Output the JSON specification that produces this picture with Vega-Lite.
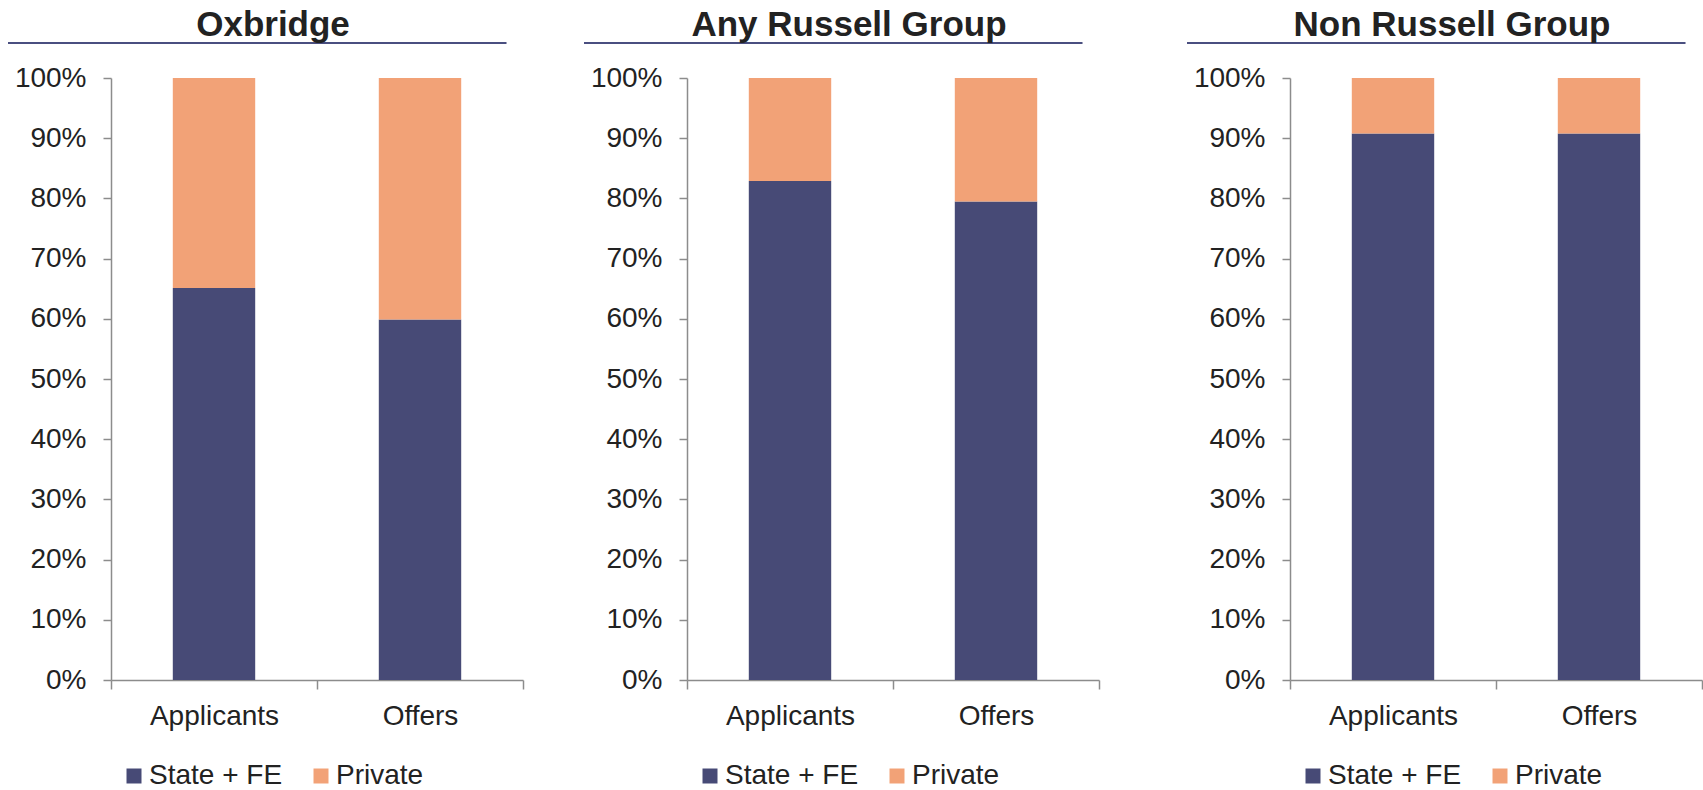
{
  "$schema": "https://vega.github.io/schema/vega-lite/v6.json",
  "padding": {"left": 7, "top": 8, "right": 0, "bottom": 0},
  "autosize": {"type": "pad"},
  "background": "white",
  "datasets": {
    "shares": [
      {"group": "Oxbridge", "stage": "Applicants", "school": "State + FE", "share": 0.651},
      {"group": "Oxbridge", "stage": "Applicants", "school": "Private", "share": 0.349},
      {"group": "Oxbridge", "stage": "Offers", "school": "State + FE", "share": 0.599},
      {"group": "Oxbridge", "stage": "Offers", "school": "Private", "share": 0.401},
      {"group": "Any Russell Group", "stage": "Applicants", "school": "State + FE", "share": 0.829},
      {"group": "Any Russell Group", "stage": "Applicants", "school": "Private", "share": 0.171},
      {"group": "Any Russell Group", "stage": "Offers", "school": "State + FE", "share": 0.795},
      {"group": "Any Russell Group", "stage": "Offers", "school": "Private", "share": 0.205},
      {"group": "Non Russell Group", "stage": "Applicants", "school": "State + FE", "share": 0.908},
      {"group": "Non Russell Group", "stage": "Applicants", "school": "Private", "share": 0.092},
      {"group": "Non Russell Group", "stage": "Offers", "school": "State + FE", "share": 0.908},
      {"group": "Non Russell Group", "stage": "Offers", "school": "Private", "share": 0.092}
    ]
  },
  "config": {
    "view": {"stroke": null},
    "font": "Liberation Sans",
    "axis": {
      "labelFont": "Liberation Sans",
      "labelFontSize": 28,
      "labelColor": "#222222",
      "domainColor": "#8c8c8c",
      "tickColor": "#8c8c8c",
      "domainWidth": 1.5,
      "tickWidth": 1.5,
      "tickSize": 8,
      "grid": false,
      "title": null
    },
    "title": {
      "font": "Liberation Sans",
      "fontSize": 35,
      "fontWeight": "bold",
      "color": "#222222",
      "anchor": "middle",
      "dx": -44,
      "baseline": "alphabetic",
      "offset": -1
    },
    "legend": {
      "orient": "none",
      "legendX": 9,
      "legendY": 684,
      "direction": "horizontal",
      "title": null,
      "symbolType": "square",
      "symbolSize": 225,
      "symbolStrokeWidth": 0,
      "symbolOpacity": 1,
      "labelFont": "Liberation Sans",
      "labelFontSize": 28,
      "labelColor": "#222222",
      "labelOffset": 1,
      "columnPadding": 24,
      "padding": 0
    }
  },
  "spacing": 59,
  "hconcat": [
    {
      "title": "Oxbridge",
      "width": 412,
      "height": 602,
      "layer": [
        {
          "data": {"name": "shares"},
          "transform": [{"filter": "datum.group === 'Oxbridge'"}],
          "mark": {"type": "bar", "width": {"band": 0.4}},
          "encoding": {
            "x": {"field": "stage", "type": "nominal", "sort": ["Applicants", "Offers"],
                  "scale": {"paddingInner": 0, "paddingOuter": 0},
                  "axis": {"labelAngle": 0, "tickBand": "extent", "labelPadding": 13, "tickSize": 9}},
            "y": {"field": "share", "type": "quantitative", "stack": "zero",
                  "scale": {"domain": [0, 1]},
                  "axis": {"format": ".0%", "values": [0, 0.1, 0.2, 0.3, 0.4, 0.5, 0.6, 0.7, 0.8, 0.9, 1], "labelPadding": 17}},
            "color": {"field": "school", "type": "nominal",
                      "scale": {"domain": ["State + FE", "Private"], "range": ["#474A76", "#F2A277"]}},
            "order": {"field": "school", "sort": "descending"}
          }
        },
        {
          "data": {"values": [{"underline": "Oxbridge"}]},
          "mark": {"type": "rule", "color": "#4A4F80", "strokeWidth": 2},
          "encoding": {
            "x": {"datum": -0.25, "type": "quantitative", "scale": {"domain": [0, 1]}, "axis": null},
            "x2": {"datum": 0.96},
            "y": {"datum": 1.058, "type": "quantitative"}
          }
        }
      ],
      "resolve": {"scale": {"x": "independent"}, "axis": {"x": "independent"}}
    },
    {
      "title": "Any Russell Group",
      "width": 412,
      "height": 602,
      "layer": [
        {
          "data": {"name": "shares"},
          "transform": [{"filter": "datum.group === 'Any Russell Group'"}],
          "mark": {"type": "bar", "width": {"band": 0.4}},
          "encoding": {
            "x": {"field": "stage", "type": "nominal", "sort": ["Applicants", "Offers"],
                  "scale": {"paddingInner": 0, "paddingOuter": 0},
                  "axis": {"labelAngle": 0, "tickBand": "extent", "labelPadding": 13, "tickSize": 9}},
            "y": {"field": "share", "type": "quantitative", "stack": "zero",
                  "scale": {"domain": [0, 1]},
                  "axis": {"format": ".0%", "values": [0, 0.1, 0.2, 0.3, 0.4, 0.5, 0.6, 0.7, 0.8, 0.9, 1], "labelPadding": 17}},
            "color": {"field": "school", "type": "nominal",
                      "scale": {"domain": ["State + FE", "Private"], "range": ["#474A76", "#F2A277"]}},
            "order": {"field": "school", "sort": "descending"}
          }
        },
        {
          "data": {"values": [{"underline": "Any Russell Group"}]},
          "mark": {"type": "rule", "color": "#4A4F80", "strokeWidth": 2},
          "encoding": {
            "x": {"datum": -0.25, "type": "quantitative", "scale": {"domain": [0, 1]}, "axis": null},
            "x2": {"datum": 0.96},
            "y": {"datum": 1.058, "type": "quantitative"}
          }
        }
      ],
      "resolve": {"scale": {"x": "independent"}, "axis": {"x": "independent"}}
    },
    {
      "title": "Non Russell Group",
      "width": 412,
      "height": 602,
      "layer": [
        {
          "data": {"name": "shares"},
          "transform": [{"filter": "datum.group === 'Non Russell Group'"}],
          "mark": {"type": "bar", "width": {"band": 0.4}},
          "encoding": {
            "x": {"field": "stage", "type": "nominal", "sort": ["Applicants", "Offers"],
                  "scale": {"paddingInner": 0, "paddingOuter": 0},
                  "axis": {"labelAngle": 0, "tickBand": "extent", "labelPadding": 13, "tickSize": 9}},
            "y": {"field": "share", "type": "quantitative", "stack": "zero",
                  "scale": {"domain": [0, 1]},
                  "axis": {"format": ".0%", "values": [0, 0.1, 0.2, 0.3, 0.4, 0.5, 0.6, 0.7, 0.8, 0.9, 1], "labelPadding": 17, "minExtent": 131}},
            "color": {"field": "school", "type": "nominal",
                      "scale": {"domain": ["State + FE", "Private"], "range": ["#474A76", "#F2A277"]}},
            "order": {"field": "school", "sort": "descending"}
          }
        },
        {
          "data": {"values": [{"underline": "Non Russell Group"}]},
          "mark": {"type": "rule", "color": "#4A4F80", "strokeWidth": 2},
          "encoding": {
            "x": {"datum": -0.25, "type": "quantitative", "scale": {"domain": [0, 1]}, "axis": null},
            "x2": {"datum": 0.96},
            "y": {"datum": 1.058, "type": "quantitative"}
          }
        }
      ],
      "resolve": {"scale": {"x": "independent"}, "axis": {"x": "independent"}}
    }
  ],
  "resolve": {"legend": {"color": "independent"}}
}
